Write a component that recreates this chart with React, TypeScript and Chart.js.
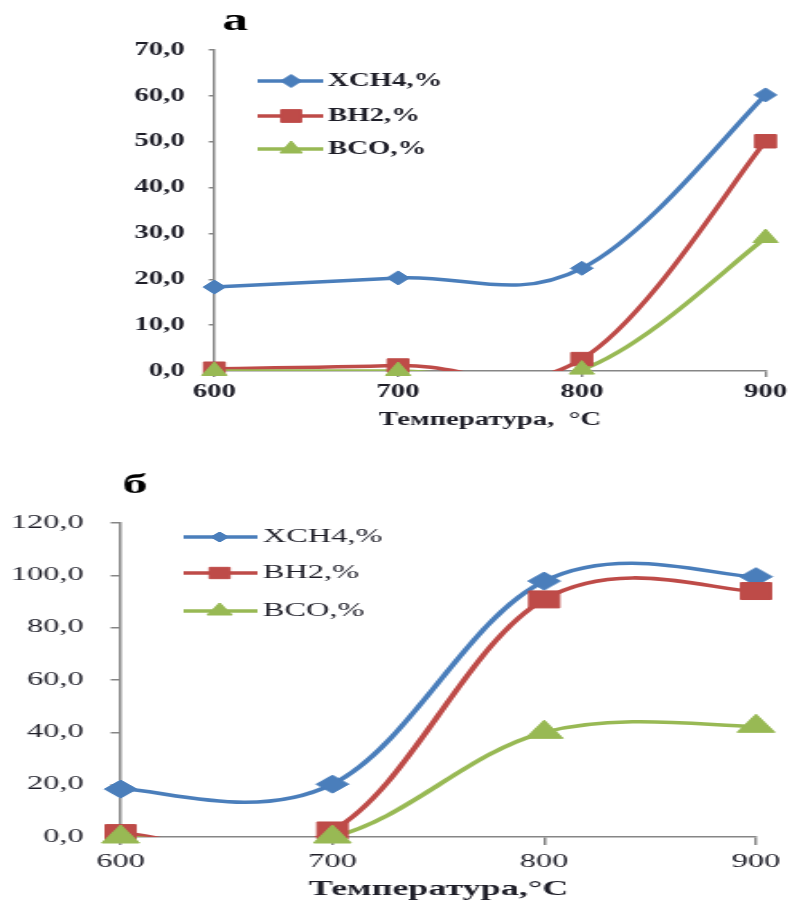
import React, { useEffect, useRef } from 'react';
import { Chart, registerables } from 'chart.js';
import { drawPoint } from 'chart.js/helpers';

Chart.register(...registerables);
Chart.defaults.font.family = "'Liberation Serif', 'Times New Roman', serif";

const temperatures = ['600', '700', '800', '900'];
const seriesNames = ['XCH4,%', 'BH2,%', 'BCO,%'];

// Chart "а"
const xch4A = [18.3, 20.3, 22.4, 60.2];
const bh2A = [0.5, 1.2, 2.6, 50.1];
const bcoA = [0.0, 0.0, 0.3, 29.0];
const yTicksA = { min: 0, max: 70, step: 10 };

// Chart "б"
const xch4B = [18.3, 20.2, 97.8, 99.5];
const bh2B = [1.5, 2.5, 90.8, 94.0];
const bcoB = [0.0, 0.0, 40.0, 42.3];
const yTicksB = { min: 0, max: 120, step: 20 };

const colors = ['#4A7EBB', '#BE4B48', '#98B954'];
const pointStyles = ['rectRot', 'rect', 'triangle'];
const textColor = '#1e1e28';
const axisColor = '#868686';
const SMOOTH_K = 1.1; // Catmull-Rom style smoothing factor (Excel-like)

// Excel-like smoothing: Catmull-Rom control points computed from the scale-positioned points
const catmullPlugin = {
  id: 'catmullSmooth',
  beforeDatasetDraw(chart: any, args: any) {
    const ds = chart.data.datasets[args.index];
    if (!ds || !ds.smooth) return;
    const meta = args.meta;
    const line = meta.dataset;
    if (!line) return;
    if (typeof line.updateControlPoints === 'function') line.updateControlPoints(chart.chartArea, 'x');
    const pts = meta.data;
    const n = pts.length;
    for (let i = 0; i < n; i++) {
      const p = pts[i];
      const prev = pts[Math.max(0, i - 1)];
      const next = pts[Math.min(n - 1, i + 1)];
      const dx = ((next.x - prev.x) / 6) * SMOOTH_K;
      const dy = ((next.y - prev.y) / 6) * SMOOTH_K;
      p.cp1x = p.x - dx;
      p.cp1y = p.y - dy;
      p.cp2x = p.x + dx;
      p.cp2y = p.y + dy;
    }
    line._path = undefined;
  },
};

type Cfg = {
  W: number; H: number; stretch: number; top: number;
  series: number[][]; yT: { min: number; max: number; step: number };
  yWidth: number; xHeight: number; pad: { top: number; right: number };
  yTickLen: number; yTickPad: number; xTickLen: number; xTickPad: number;
  yTickFont: { size: number; weight: string }; xTickFont: { size: number; weight: string };
  xTitle: string; xTitleFont: { size: number; weight: string }; xTitlePad: number;
  title: string; titleFont: string; titleX: number; titleY: number;
  legend: { x0: number; x1: number; mx: number; tx: number; rows: number[]; font: string; radii: number[] };
  radii: number[]; lineWidth: number;
};

function LineChart({ cfg }: { cfg: Cfg }) {
  const ref = useRef<HTMLCanvasElement | null>(null);
  useEffect(() => {
    if (!ref.current) return;
    const lineSets = cfg.series.map((d, i) => ({
      label: seriesNames[i] + ' line',
      data: d,
      smooth: true,
      borderColor: colors[i],
      backgroundColor: colors[i],
      borderWidth: cfg.lineWidth,
      pointRadius: 0,
      tension: 0.4,
      capBezierPoints: false,
      fill: false,
      clip: { left: false, right: false, top: false, bottom: 0 },
      order: 5 - i,
    }));
    const pointSets = cfg.series.map((d, i) => ({
      label: seriesNames[i],
      data: d,
      showLine: false,
      borderColor: colors[i],
      backgroundColor: colors[i],
      borderWidth: 1,
      pointRadius: cfg.radii[i],
      pointStyle: pointStyles[i],
      clip: false,
      order: 2 - i,
    }));
    const overlay = {
      id: 'overlay' + cfg.title,
      afterDraw(chart: any) {
        const ctx = chart.ctx as CanvasRenderingContext2D;
        ctx.save();
        ctx.fillStyle = '#000';
        ctx.font = cfg.titleFont;
        ctx.textAlign = 'left';
        ctx.textBaseline = 'alphabetic';
        ctx.fillText(cfg.title, cfg.titleX, cfg.titleY);
        const L = cfg.legend;
        L.rows.forEach((y, i) => {
          ctx.strokeStyle = colors[i];
          ctx.lineWidth = cfg.lineWidth;
          ctx.beginPath();
          ctx.moveTo(L.x0, y);
          ctx.lineTo(L.x1, y);
          ctx.stroke();
          ctx.fillStyle = colors[i];
          ctx.lineWidth = 1;
          drawPoint(ctx, { pointStyle: pointStyles[i], radius: L.radii[i], rotation: 0, borderWidth: 1 } as any, L.mx, y);
          ctx.fillStyle = textColor;
          ctx.font = L.font;
          ctx.textBaseline = 'middle';
          ctx.fillText(seriesNames[i], L.tx, y);
        });
        ctx.restore();
      },
    };
    const chart = new Chart(ref.current, {
      type: 'line',
      data: { labels: temperatures, datasets: [...lineSets, ...pointSets] as any },
      options: {
        responsive: false,
        animation: false,
        events: [],
        layout: { padding: { top: cfg.pad.top, right: cfg.pad.right, bottom: 0, left: 0 } },
        plugins: { legend: { display: false }, tooltip: { enabled: false } },
        scales: {
          x: {
            type: 'category',
            offset: false,
            grid: { display: true, drawOnChartArea: false, drawTicks: true, tickLength: cfg.xTickLen, color: axisColor, lineWidth: 1.5 },
            border: { display: true, color: axisColor, width: 1.5 },
            ticks: { color: textColor, font: cfg.xTickFont, padding: cfg.xTickPad, maxRotation: 0 },
            title: { display: true, text: cfg.xTitle, color: textColor, font: cfg.xTitleFont, padding: { top: 0, bottom: cfg.xTitlePad } },
            afterFit: (s: any) => { s.height = cfg.xHeight; },
          },
          y: {
            min: cfg.yT.min,
            max: cfg.yT.max,
            grid: { display: true, drawOnChartArea: false, drawTicks: true, tickLength: cfg.yTickLen, color: axisColor, lineWidth: 1.5 },
            border: { display: true, color: axisColor, width: 1.5 },
            ticks: {
              stepSize: cfg.yT.step,
              color: textColor,
              font: cfg.yTickFont,
              padding: cfg.yTickPad,
              callback: (v: any) => Number(v).toFixed(1).replace('.', ','),
            },
            afterFit: (s: any) => { s.width = cfg.yWidth; },
          },
        },
      } as any,
      plugins: [catmullPlugin as any, overlay as any],
    });
    return () => chart.destroy();
  }, [cfg]);
  return (
    <div style={{ position: 'absolute', left: 0, top: cfg.top, width: cfg.W, height: cfg.H, transform: `scaleX(${cfg.stretch})`, transformOrigin: '0 0' }}>
      <canvas ref={ref} width={cfg.W} height={cfg.H} style={{ display: 'block' }} />
    </div>
  );
}

const cfgA: Cfg = {
  W: 497, H: 445, stretch: 1.6, top: 0,
  series: [xch4A, bh2A, bcoA], yT: yTicksA,
  yWidth: 134, xHeight: 74, pad: { top: 50, right: 15 },
  yTickLen: 3.5, yTickPad: 15, xTickLen: 6, xTickPad: 5,
  yTickFont: { size: 18, weight: 'bold' }, xTickFont: { size: 18, weight: 'bold' },
  xTitle: 'Температура,  °C', xTitleFont: { size: 18, weight: 'bold' }, xTitlePad: 14,
  title: 'а', titleFont: 'bold 32px "Liberation Serif", serif', titleX: 139, titleY: 30,
  legend: { x0: 161, x1: 202, mx: 182, tx: 205, rows: [81, 116, 149], font: 'bold 18px "Liberation Serif", serif', radii: [6.5, 9, 8] },
  radii: [7, 9.5, 9], lineWidth: 3.5,
};

const cfgB: Cfg = {
  W: 442, H: 461, stretch: 1.8, top: 445,
  series: [xch4B, bh2B, bcoB], yT: yTicksB,
  yWidth: 67, xHeight: 69, pad: { top: 78, right: 22 },
  yTickLen: 5.5, yTickPad: 15, xTickLen: 8, xTickPad: 6,
  yTickFont: { size: 18, weight: 'normal' }, xTickFont: { size: 18, weight: 'normal' },
  xTitle: 'Температура,°C', xTitleFont: { size: 20, weight: 'bold' }, xTitlePad: 4,
  title: 'б', titleFont: 'bold 28px "Liberation Serif", serif', titleX: 68, titleY: 48,
  legend: { x0: 102, x1: 143, mx: 122, tx: 146, rows: [92, 128, 166], font: '18px "Liberation Serif", serif', radii: [5, 8, 8] },
  radii: [9, 12, 12], lineWidth: 3.5,
};

export default function App() {
  return (
    <div style={{ position: 'absolute', left: 0, top: 0, width: 795, height: 906, background: '#fff', overflow: 'hidden' }}>
      <LineChart cfg={cfgA} />
      <LineChart cfg={cfgB} />
    </div>
  );
}
